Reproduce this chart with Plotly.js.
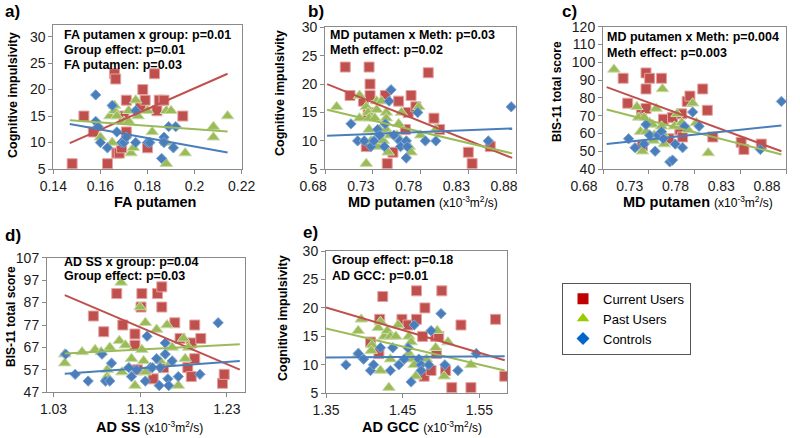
<!DOCTYPE html>
<html><head><meta charset="utf-8">
<script src="https://cdn.plot.ly/plotly-3.0.1.min.js"></script>
<style>html,body{margin:0;padding:0;background:#fff}#chart{width:800px;height:438px}</style>
</head><body><div id="chart"></div>
<script>
// ---------- Panel a: FA putamen vs cognitive impulsivity ----------
const a_cur_x = [0.148, 0.153, 0.157, 0.163, 0.166, 0.1665, 0.167, 0.168, 0.169, 0.170, 0.171, 0.171, 0.177, 0.178, 0.179, 0.180, 0.183, 0.184, 0.185, 0.187, 0.195];
const a_cur_y = [6, 15, 12, 6, 23, 22, 8, 8, 9, 15, 18, 12, 17, 20, 18, 9, 23, 16, 18, 18, 15];
const a_past_x = [0.160, 0.164, 0.165, 0.166, 0.166, 0.167, 0.170, 0.172, 0.172, 0.173, 0.174, 0.175, 0.176, 0.180, 0.182, 0.188, 0.188, 0.188, 0.190, 0.196, 0.208, 0.208, 0.214];
const a_past_y = [11, 15, 10, 16, 17, 15, 14, 14, 16, 8, 9, 18, 15, 16, 12, 10, 16, 6, 16, 8, 13, 11, 15];
const a_ctl_x = [0.158, 0.158, 0.159, 0.160, 0.163, 0.165, 0.167, 0.169, 0.170, 0.171, 0.175, 0.175, 0.180, 0.181, 0.186, 0.187, 0.187, 0.189, 0.191, 0.192];
const a_ctl_y = [19, 14, 13, 10, 9, 17, 12, 10, 10, 11, 16, 10, 10, 10, 7, 11, 10, 13, 9, 13];
const a_fit_x = [0.147, 0.214];
const a_fit_cur = [9.9, 23];
const a_fit_past = [14.2, 12.1];
const a_fit_ctl = [13.5, 8.1];

// ---------- Panel b: MD putamen vs cognitive impulsivity ----------
const b_cur_x = [0.701, 0.706, 0.720, 0.723, 0.725, 0.726, 0.727, 0.727, 0.743, 0.745, 0.751, 0.757, 0.764, 0.767, 0.770, 0.775, 0.788, 0.794, 0.800, 0.830, 0.834, 0.853];
const b_cur_y = [23, 18, 17, 9, 15, 23, 20, 18, 18, 6, 8, 17, 12, 15, 18, 16, 22, 14, 12, 8, 6, 9];
const b_past_x = [0.692, 0.716, 0.716, 0.723, 0.723, 0.725, 0.726, 0.726, 0.728, 0.732, 0.734, 0.734, 0.735, 0.737, 0.739, 0.741, 0.744, 0.744, 0.744, 0.746, 0.748, 0.755, 0.757, 0.760, 0.768, 0.770, 0.778, 0.780, 0.796];
const b_past_y = [16, 18, 14, 16, 6, 15, 14, 12, 10, 14, 17, 15.5, 9, 12, 17, 10, 15, 14, 12, 8, 11, 11, 13, 15, 9, 8, 16, 11, 12];
const b_ctl_x = [0.707, 0.714, 0.721, 0.728, 0.731, 0.735, 0.737, 0.742, 0.743, 0.747, 0.749, 0.752, 0.758, 0.759, 0.765, 0.765, 0.766, 0.777, 0.785, 0.796, 0.851, 0.875];
const b_ctl_y = [13, 10, 10, 9, 10, 12, 11, 9, 13, 17, 19, 11, 10, 9, 10, 7, 9, 15, 10, 10, 10, 16];
const b_fit_x = [0.682, 0.876];
const b_fit_cur = [20, 7];
const b_fit_past = [15.5, 7.8];
const b_fit_ctl = [10.9, 12.2];

// ---------- Panel c: MD putamen vs BIS-11 ----------
const c_cur_x = [0.702, 0.707, 0.722, 0.723, 0.727, 0.727, 0.727, 0.731, 0.744, 0.746, 0.752, 0.756, 0.764, 0.766, 0.767, 0.772, 0.775, 0.789, 0.794, 0.800, 0.831, 0.834, 0.853];
const c_cur_y = [91, 77, 71, 53, 94, 85, 74, 91, 91, 68, 57, 69, 62, 71, 58, 78, 81, 85, 73, 58, 55, 51, 54];
const c_past_x = [0.692, 0.717, 0.719, 0.721, 0.723, 0.725, 0.727, 0.731, 0.734, 0.735, 0.736, 0.738, 0.744, 0.745, 0.745, 0.747, 0.758, 0.761, 0.766, 0.773, 0.778, 0.782, 0.795];
const c_past_y = [96, 75, 69, 61, 50, 69, 61, 66, 65, 56, 59, 74, 64, 85, 60, 54, 64, 71, 66, 62, 77, 66, 49];
const c_ctl_x = [0.708, 0.715, 0.725, 0.727, 0.731, 0.737, 0.740, 0.744, 0.746, 0.753, 0.756, 0.759, 0.767, 0.769, 0.778, 0.785, 0.852, 0.875];
const c_ctl_y = [57, 52, 54, 65, 59, 50, 59, 61, 57, 44, 45, 54, 52, 64, 72, 64, 51, 78];
const c_fit_x = [0.684, 0.875];
const c_fit_cur = [86, 50];
const c_fit_past = [73.5, 48.2];
const c_fit_ctl = [54, 64.5];

// ---------- Panel d: AD SS vs BIS-11 ----------
const d_cur_x = [1.076, 1.088, 1.103, 1.110, 1.124, 1.124, 1.127, 1.131, 1.132, 1.145, 1.150, 1.155, 1.155, 1.157, 1.170, 1.176, 1.185, 1.189, 1.189, 1.193, 1.193, 1.200, 1.225, 1.227];
const d_cur_y = [81, 74, 91, 77, 73, 68, 57, 85, 91, 53, 91, 94, 85, 58, 78, 71, 58, 69, 54, 77, 62, 71, 51, 55];
const d_past_x = [1.043, 1.043, 1.063, 1.078, 1.085, 1.092, 1.092, 1.093, 1.095, 1.106, 1.108, 1.109, 1.113, 1.120, 1.124, 1.130, 1.132, 1.134, 1.136, 1.136, 1.149, 1.153, 1.161, 1.165, 1.167, 1.174, 1.180, 1.182, 1.186];
const d_past_y = [64, 60, 65, 66, 65, 57, 54, 53, 67, 70, 96, 56, 68, 62, 50, 85, 66, 61, 78, 56, 75, 61, 77, 60, 67, 50, 71, 62, 67];
const d_ctl_x = [1.044, 1.055, 1.070, 1.086, 1.090, 1.095, 1.097, 1.117, 1.120, 1.126, 1.136, 1.138, 1.142, 1.144, 1.149, 1.152, 1.153, 1.159, 1.159, 1.162, 1.163, 1.167, 1.174, 1.199, 1.220];
const d_ctl_y = [64, 55, 52, 64, 52, 52, 60, 58, 54, 57, 52, 72, 58, 58, 62, 50, 58, 64, 69, 53, 50, 61, 54, 55, 78];
const d_fit_x = [1.043, 1.245];
const d_fit_cur = [90.3, 57.1];
const d_fit_past = [64.3, 68.4];
const d_fit_ctl = [55.3, 61];

// ---------- Panel e: AD GCC vs cognitive impulsivity ----------
const e_cur_x = [1.408, 1.419, 1.420, 1.424, 1.449, 1.457, 1.468, 1.468, 1.476, 1.478, 1.479, 1.487, 1.493, 1.494, 1.497, 1.501, 1.506, 1.514, 1.526, 1.539, 1.571, 1.583];
const e_cur_y = [14, 12, 18, 22, 18, 17, 18, 23, 15, 8, 20, 9, 15, 12, 15, 23, 9, 6, 17, 6, 18, 8];
const e_past_x = [1.392, 1.393, 1.396, 1.410, 1.409, 1.418, 1.421, 1.421, 1.426, 1.430, 1.432, 1.434, 1.434, 1.441, 1.444, 1.458, 1.458, 1.461, 1.463, 1.465, 1.467, 1.481, 1.493, 1.495, 1.504, 1.509, 1.539];
const e_past_y = [16, 12, 18, 13.5, 12.5, 16.5, 17.6, 9, 15, 16, 6, 15, 11, 15, 17, 15, 12, 14, 11, 10, 8, 11, 13, 16, 8, 14, 10];
const e_ctl_x = [1.376, 1.392, 1.399, 1.408, 1.412, 1.421, 1.434, 1.437, 1.445, 1.452, 1.457, 1.461, 1.465, 1.471, 1.474, 1.474, 1.484, 1.487, 1.500, 1.505, 1.522, 1.546];
const e_ctl_y = [10, 12, 11, 9, 10, 13, 9, 13, 10, 11, 13, 7, 17, 11, 10, 9, 10, 16, 19, 10, 9, 12];
const e_fit_x = [1.35, 1.583];
const e_fit_cur = [20.1, 10.8];
const e_fit_past = [16.4, 9];
const e_fit_ctl = [11.3, 11.5];

// ---------- Tick labels ----------
const a_xticks = ['0.14', '0.16', '0.18', '0.2', '0.22'];
const md_xticks = ['0.68', '0.73', '0.78', '0.83', '0.88'];
const d_xticks = ['1.03', '1.13', '1.23'];
const e_xticks = ['1.35', '1.45', '1.55'];
const ci_yticks = [5, 10, 15, 20, 25, 30];
const c_yticks = [40, 50, 60, 70, 80, 90, 100, 110, 120];
const d_yticks = [47, 57, 67, 77, 87, 97, 107];

const legendNames = ['Current Users', 'Past Users', 'Controls'];

// ---------- Styling / layout ----------
const W = 800, H = 438;
const FONT = '"Liberation Sans", Arial, sans-serif';
const COL = {cur: '#C0504D', past: '#9BBB59', ctl: '#4A7EBB'};
const EDGE = {cur: '#E4A3A1', past: '#C9DCA5', ctl: '#7FA6D6'};
const LINE = {cur: '#C0504D', past: '#9BBB59', ctl: '#4A7EBB'};
const LEG = {cur: '#C00000', past: '#99CC00', ctl: '#0066CC'};
const SYM = {cur: 'square', past: 'triangle-up', ctl: 'diamond'};
const SIZE = {cur: 10, past: 11, ctl: 8};

const panels = [
  {box: [53.3, 241.7, 25, 169], xr: [0.14, 0.22], yr: [5, 32.2], xt: a_xticks, yt: ci_yticks, shift: 0,
   d: {cur: [a_cur_x, a_cur_y], past: [a_past_x, a_past_y], ctl: [a_ctl_x, a_ctl_y]},
   fx: a_fit_x, f: {cur: a_fit_cur, past: a_fit_past, ctl: a_fit_ctl}},
  {box: [325.2, 516, 27.3, 169.3], xr: [0.68, 0.88], yr: [5, 30], xt: md_xticks, yt: ci_yticks, shift: -12,
   d: {cur: [b_cur_x, b_cur_y], past: [b_past_x, b_past_y], ctl: [b_ctl_x, b_ctl_y]},
   fx: b_fit_x, f: {cur: b_fit_cur, past: b_fit_past, ctl: b_fit_ctl}},
  {box: [603, 786, 26.7, 169], xr: [0.68, 0.88], yr: [40, 120], xt: md_xticks, yt: c_yticks, shift: -19,
   d: {cur: [c_cur_x, c_cur_y], past: [c_past_x, c_past_y], ctl: [c_ctl_x, c_ctl_y]},
   fx: c_fit_x, f: {cur: c_fit_cur, past: c_fit_past, ctl: c_fit_ctl}},
  {box: [47, 245, 257.7, 392.3], xr: [1.0225, 1.251], yr: [47, 107], xt: d_xticks, yt: d_yticks, shift: 0,
   d: {cur: [d_cur_x, d_cur_y], past: [d_past_x, d_past_y], ctl: [d_ctl_x, d_ctl_y]},
   fx: d_fit_x, f: {cur: d_fit_cur, past: d_fit_past, ctl: d_fit_ctl}},
  {box: [326, 507, 251, 393.3], xr: [1.35, 1.586], yr: [5, 30], xt: e_xticks, yt: ci_yticks, shift: 0,
   d: {cur: [e_cur_x, e_cur_y], past: [e_past_x, e_past_y], ctl: [e_ctl_x, e_ctl_y]},
   fx: e_fit_x, f: {cur: e_fit_cur, past: e_fit_past, ctl: e_fit_ctl}}
];

const traces = [];
const layout = {
  width: W, height: H, margin: {l: 0, r: 0, t: 0, b: 0},
  paper_bgcolor: '#fff', plot_bgcolor: '#fff',
  font: {family: FONT, color: '#000'},
  showlegend: true,
  legend: {x: 562 / W, y: 1 - 282.7 / H, xanchor: 'left', yanchor: 'top',
           bordercolor: '#555', borderwidth: 1, bgcolor: '#fff',
           font: {family: FONT, size: 13, color: '#000'}, itemwidth: 30, tracegroupgap: 0},
  annotations: []
};

const groups = ['cur', 'past', 'ctl'];
panels.forEach((p, i) => {
  const sfx = i === 0 ? '' : String(i + 1);
  const xa = 'x' + sfx, ya = 'y' + sfx;
  const axCommon = {showline: true, mirror: true, linecolor: '#8a8a8a', linewidth: 1,
    ticks: 'outside', ticklen: 4, tickcolor: '#8a8a8a', showgrid: false, zeroline: false,
    tickfont: {family: FONT, size: 14, color: '#1a1a1a'}, fixedrange: true};
  const xNums = p.xt.map(Number);
  layout['xaxis' + sfx] = Object.assign({}, axCommon, {
    domain: [p.box[0] / W, p.box[1] / W], range: p.xr, anchor: ya,
    tickmode: 'array', tickvals: xNums, ticktext: p.xt, ticklabelshift: p.shift});
  layout['yaxis' + sfx] = Object.assign({}, axCommon, {
    domain: [1 - p.box[3] / H, 1 - p.box[2] / H], range: p.yr, anchor: xa,
    tickmode: 'array', tickvals: p.yt, ticktext: p.yt.map(String)});
  groups.forEach(g => {
    traces.push({type: 'scatter', mode: 'markers', x: p.d[g][0], y: p.d[g][1], xaxis: xa, yaxis: ya,
      showlegend: false, hoverinfo: 'skip',
      marker: {symbol: SYM[g], size: SIZE[g], color: COL[g], line: {color: EDGE[g], width: 1}}});
  });
  groups.forEach(g => {
    traces.push({type: 'scatter', mode: 'lines', x: p.fx, y: p.f[g], xaxis: xa, yaxis: ya,
      showlegend: false, hoverinfo: 'skip', line: {color: LINE[g], width: 2}});
  });
});

// legend entries
groups.forEach((g, k) => {
  traces.push({type: 'scatter', mode: 'markers', x: [null], y: [null], name: legendNames[k],
    showlegend: true, hoverinfo: 'skip',
    marker: {symbol: SYM[g], size: g === 'ctl' ? 10 : 11, color: LEG[g]}});
});

function txt(x, y, text, size, opts) {
  layout.annotations.push(Object.assign({xref: 'paper', yref: 'paper', x: x / W, y: 1 - y / H,
    text: text, showarrow: false, xanchor: 'left', yanchor: 'middle',
    font: {family: FONT, size: size, color: '#000'}}, opts || {}));
}
// panel letters
txt(3, 11, '<b>a)</b>', 17);
txt(306, 11, '<b>b)</b>', 17);
txt(560, 11, '<b>c)</b>', 17);
txt(3, 235, '<b>d)</b>', 17);
txt(301, 232, '<b>e)</b>', 17);
// statistics text
txt(62, 35, '<b>FA putamen x group: p=0.01</b>', 12.5);
txt(62, 50, '<b>Group effect: p=0.01</b>', 12.5);
txt(62, 65, '<b>FA putamen: p=0.03</b>', 12.5);
txt(328, 35, '<b>MD putamen x Meth: p=0.03</b>', 12.5);
txt(328, 50, '<b>Meth effect: p=0.02</b>', 12.5);
txt(605, 36.7, '<b>MD putamen x Meth: p=0.004</b>', 12.5);
txt(605, 52.7, '<b>Meth effect: p=0.003</b>', 12.5);
txt(61.7, 261.7, '<b>AD SS x group: p=0.04</b>', 12.5);
txt(61.7, 276, '<b>Group effect: p=0.03</b>', 12.5);
txt(330, 260, '<b>Group effect: p=0.18</b>', 12.5);
txt(330, 276, '<b>AD GCC: p=0.01</b>', 12.5);
// axis titles
const unit = ' <span style="font-size:12px">(x10<sup>-3</sup>m<sup>2</sup>/s)</span>';
txt(155, 202, '<b>FA putamen</b>', 14.5, {xanchor: 'center'});
txt(423, 202, '<b>MD putamen</b>' + unit, 14.5, {xanchor: 'center'});
txt(698, 202, '<b>MD putamen</b>' + unit, 14.5, {xanchor: 'center'});
txt(149, 427, '<b>AD SS</b>' + unit, 14.5, {xanchor: 'center'});
txt(422, 427, '<b>AD GCC</b>' + unit, 14.5, {xanchor: 'center'});
txt(13, 95, '<b>Cognitive impulsivity</b>', 12.5, {xanchor: 'center', textangle: -90});
txt(280, 93, '<b>Cognitive impulsivity</b>', 12.5, {xanchor: 'center', textangle: -90});
txt(557, 92, '<b>BIS-11 total score</b>', 12, {xanchor: 'center', textangle: -90});
txt(11, 317, '<b>BIS-11 total score</b>', 12, {xanchor: 'center', textangle: -90});
txt(283, 318, '<b>Cognitive impulsivity</b>', 12.5, {xanchor: 'center', textangle: -90});

Plotly.newPlot('chart', traces, layout, {staticPlot: true, displayModeBar: false});
</script></body></html>
